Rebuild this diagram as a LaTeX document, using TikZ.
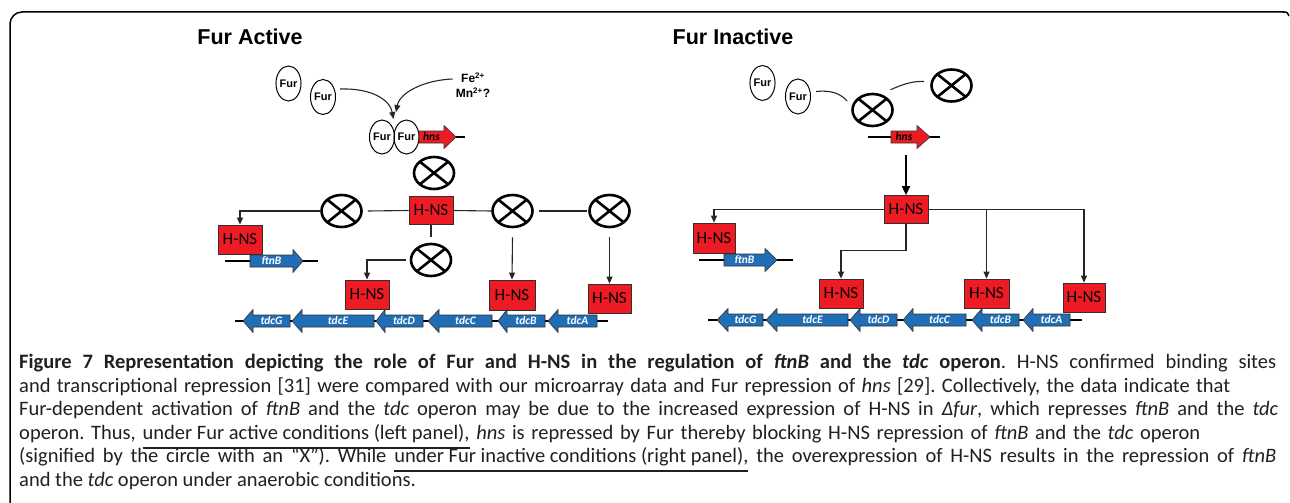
\documentclass[tikz,border=0pt]{standalone}
\usepackage{fontspec}
\setmainfont{Carlito}
\newfontfamily\arialf{Liberation Sans}
\usetikzlibrary{shapes.geometric,arrows.meta}
\definecolor{hnsred}{RGB}{237,28,36}
\definecolor{geneblue}{RGB}{31,110,182}
\definecolor{boxedge}{RGB}{55,45,45}
\definecolor{captext}{RGB}{35,31,32}
\newsavebox\ulsave
\newcommand\ulbar[1]{\sbox\ulsave{#1}\rlap{\rule[-9.5pt]{\wd\ulsave}{2pt}}\usebox\ulsave}
\newcommand\capfit[2]{\makebox[#1][s]{#2}}
\newcommand\gene[7]{%
  \filldraw[fill=#5, draw=boxedge, line width=0.6pt] (#1,#4-6) -- (#2,#4-6) -- (#2,#4-11.5) -- (#3,#4) -- (#2,#4+11.5) -- (#2,#4+6) -- (#1,#4+6) -- cycle;
  \node[genelabel] (#6) at ({(#1+#2)/2},#4) {#7};}
\tikzset{
  titlelabel/.style={font=\arialf\bfseries\fontsize{21.5}{25}\selectfont},
  fur/.style={ellipse, draw, line width=1pt, minimum width=25pt, minimum height=35pt, inner sep=0pt, font=\arialf\bfseries\fontsize{11}{13}\selectfont},
  xcirc/.style={ellipse, draw, line width=2.6pt, minimum width=40pt, minimum height=32pt, inner sep=0pt,
    path picture={\draw[line width=2.6pt] (path picture bounding box.north west) -- (path picture bounding box.south east)
      (path picture bounding box.north east) -- (path picture bounding box.south west);}},
  hnsbox/.style={rectangle, draw=boxedge, fill=hnsred, line width=0.8pt, minimum width=44pt, minimum height=28pt, inner sep=0pt, font=\fontsize{17}{19}\selectfont},
  conn/.style={line width=1.1pt, draw=black!85},
  arr/.style={line width=1.1pt, draw=black!85, -{Triangle[length=7pt,width=6pt]}},
  dna/.style={line width=1.6pt},
  genelabel/.style={font=\bfseries\itshape\fontsize{11.5}{12}\selectfont, text=white, inner sep=0pt},
  metal/.style={align=center, font=\arialf\bfseries\fontsize{12}{15}\selectfont, inner sep=0pt},
  capline/.style={anchor=base west, inner sep=0pt, text=captext, font=\frenchspacing\fontsize{20.5}{23}\selectfont},
}
\begin{document}
\begin{tikzpicture}[x=1pt,y=-1pt]
\useasboundingbox (0,0) rectangle (1290,503);
% frame
\draw[line width=1.5pt, rounded corners=12pt] (10,505) -- (10,12) -- (1284,12);
\draw[line width=1.5pt] (1283,12) .. controls (1287,12) .. (1289,16);

% ================= LEFT PANEL =================
\node[titlelabel] (tA) at (250,37) {Fur Active};
\node[fur] (f1) at (288.5,83.5) {Fur};
\node[fur] (f2) at (323,97) {Fur};
\node[fur, minimum width=24pt, minimum height=34pt] (f3) at (382,137) {Fur};
\node[fur, minimum width=24pt, minimum height=34pt] (f4) at (406.5,137) {Fur};
\node[metal] (fe) at (473,85) {Fe\textsuperscript{2+}\\Mn\textsuperscript{2+}?};
\coordinate (j1) at (393.5,119);
\coordinate (j2) at (396,112);
\draw[arr] ([xshift=4pt,yshift=8pt]f2.east) .. controls (372,88) and (390,100) .. (j1);
\draw[arr] ([xshift=-3pt,yshift=6pt]fe.west) .. controls (425,80) and (400,92) .. (j2);
\coordinate (hAend) at (465,137);
\draw[dna] (f4.east) -- (hAend);
\gene{419}{444}{456}{137}{hnsred}{hnsA}{\textcolor{black}{hns}}

\node[xcirc] (xA0) at (434,173) {};
\node[hnsbox] (hA) at (431,210.5) {H-NS};
\node[xcirc] (xA1) at (341.5,211) {};
\node[xcirc] (xA2) at (512.5,211) {};
\node[xcirc] (xA3) at (609.5,211) {};
\node[xcirc] (xA4) at (431,260) {};
\node[hnsbox, minimum height=29pt] (hAL) at (240,239.5) {H-NS};
\node[hnsbox, minimum height=29pt] (hA4) at (367,294.5) {H-NS};
\node[hnsbox, minimum width=46pt, minimum height=30pt] (hA2) at (512,295) {H-NS};
\node[hnsbox, minimum width=43pt, minimum height=29pt] (hA3) at (609.5,298.5) {H-NS};

\draw[conn] (hA.west) -- ([xshift=5pt]xA1.east);
\draw[arr] (xA1.west) -| (hAL.north);
\draw[conn] (hA.east) -- (xA2.west);
\draw[conn] ([xshift=5pt]xA2.east) -- ([xshift=-1pt]xA3.west);
\draw[arr] ([yshift=-9pt]xA2.south) -- (hA2.north);
\draw[arr] ([yshift=-9pt]xA3.south) -- (hA3.north);
\draw[conn] (hA.south) -- ([yshift=6pt]xA4.north);
\draw[arr] ([xshift=-4pt]xA4.west) -| (hA4.north);

% ftnB left
\coordinate (fAs) at (225,261);
\coordinate (fAe) at (318,261);
\draw[dna] (fAs) -- (fAe);
\gene{250}{293}{303}{261}{geneblue}{ftnA}{ftnB}

% tdc left
\coordinate (tAs) at (235,321);
\coordinate (tAe) at (608,321);
\draw[dna] (tAs) -- (tAe);
\gene{290}{253}{243}{321}{geneblue}{tAG}{tdcG}
\gene{374}{302}{292}{321}{geneblue}{tAE}{tdcE}
\gene{423}{385}{376}{321}{geneblue}{tAD}{tdcD}
\gene{492}{439}{428}{321}{geneblue}{tAC}{tdcC}
\gene{545}{507}{498}{321}{geneblue}{tAB}{tdcB}
\gene{597}{558}{548}{321}{geneblue}{tAA}{tdcA}

% ================= RIGHT PANEL =================
\node[titlelabel] (tB) at (733,37) {Fur Inactive};
\node[fur] (g1) at (762.5,83) {Fur};
\node[fur] (g2) at (798,96.5) {Fur};
\node[xcirc] (xB1) at (872.5,110) {};
\node[xcirc] (xB2) at (951.5,85.5) {};
\draw[conn] ([xshift=5pt,yshift=5pt]g2.east) .. controls (830,90) and (840,93) .. ([xshift=-4pt,yshift=9pt]xB1.west);
\draw[conn] ([xshift=3pt,yshift=8pt]xB1.north east) .. controls (905,83) and (915,81) .. ([xshift=-6pt,yshift=4pt]xB2.west);
\coordinate (hBs) at (868,137);
\coordinate (hBe) at (940,137);
\draw[dna] (hBs) -- (hBe);
\gene{891}{917}{930}{137}{hnsred}{hnsB}{\textcolor{black}{hns}}

\node[hnsbox] (hB) at (906,209.5) {H-NS};
\coordinate (hBtop) at (906,155);
\draw[line width=2pt, -{Triangle[length=9pt,width=8pt]}] (hBtop) -- (hB.north);
\node[hnsbox, minimum width=42pt, minimum height=30pt] (hBL) at (714,238) {H-NS};
\node[hnsbox, minimum height=29pt] (hB1) at (841,293.5) {H-NS};
\node[hnsbox, minimum width=45pt, minimum height=29pt] (hB2) at (986.5,293.5) {H-NS};
\node[hnsbox, minimum width=42pt, minimum height=29pt] (hB3) at (1084,297.5) {H-NS};
\draw[arr] (hB.west) -| (hBL.north);
\draw[arr] (hB.east) -| (hB3.north);
\draw[arr] (hB.east -| hB2.north) -- (hB2.north);
\draw[arr] (hB.south) -- ++(0,27) -| (hB1.north);

% ftnB right
\coordinate (fBs) at (699,260);
\coordinate (fBe) at (793,260);
\draw[dna] (fBs) -- (fBe);
\gene{724}{765}{777}{260}{geneblue}{ftnB2}{ftnB}

% tdc right
\coordinate (tBs) at (708,320);
\coordinate (tBe) at (1082,320);
\draw[dna] (tBs) -- (tBe);
\gene{763}{728}{717}{320}{geneblue}{tBG}{tdcG}
\gene{848}{777}{766}{320}{geneblue}{tBE}{tdcE}
\gene{897}{860}{850}{320}{geneblue}{tBD}{tdcD}
\gene{966}{913}{903}{320}{geneblue}{tBC}{tdcC}
\gene{1019}{982}{972}{320}{geneblue}{tBB}{tdcB}
\gene{1070}{1033}{1023}{320}{geneblue}{tBA}{tdcA}

% ================= CAPTION =================
\node[capline] (c1) at (19,368.5) {\capfit{1257pt}{\textbf{Figure 7 Representation depicting the role of Fur and H-NS in the regulation of \textit{ftnB} and the \textit{tdc} operon}. H-NS confirmed binding sites}};
\node[capline] (c2) at (19,392) {\capfit{1211pt}{and transcriptional repression [31] were compared with our microarray data and Fur repression of \textit{hns} [29]. Collectively, the data indicate that}};
\node[capline] (c3) at (19,415.5) {\capfit{1259pt}{Fur-dependent activation of \textit{ftnB} and the \textit{tdc} operon may be due to the increased expression of H-NS in \textit{Δfur}, which represses \textit{ftnB} and the \textit{tdc}}};
\node[capline] (c4) at (19,439) {\capfit{1181pt}{operon. Thus, \ulbar{under Fur active conditions (left panel),} \textit{hns} is repressed by Fur thereby blocking H-NS repression of \textit{ftnB} and the \textit{tdc} operon}};
\node[capline] (c5) at (19,462.5) {\capfit{1257pt}{(signified by the circle with an “X”). While \ulbar{under Fur inactive conditions (right panel),} the overexpression of H-NS results in the repression of \textit{ftnB}}};
\node[capline] (c6) at (19,486) {and the \textit{tdc} operon under anaerobic conditions.};
\end{tikzpicture}
\end{document}
